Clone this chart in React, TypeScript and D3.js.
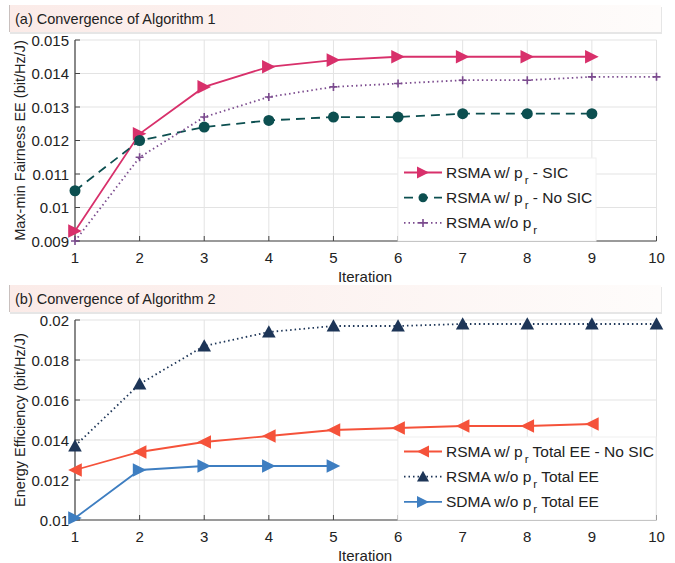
import React from 'react';
import * as d3 from 'd3';

// panel (a) data
const iterA = [1, 2, 3, 4, 5, 6, 7, 8, 9, 10];
const rsmaSic = [0.0093, 0.0122, 0.0136, 0.0142, 0.0144, 0.0145, 0.0145, 0.0145, 0.0145];
const rsmaNoSic = [0.0105, 0.012, 0.0124, 0.0126, 0.0127, 0.0127, 0.0128, 0.0128, 0.0128];
const rsmaNoPr = [0.009, 0.0115, 0.0127, 0.0133, 0.0136, 0.0137, 0.0138, 0.0138, 0.0139, 0.0139];
const yTicksA = [0.009, 0.01, 0.011, 0.012, 0.013, 0.014, 0.015];

// panel (b) data
const totalNoSic = [0.0125, 0.0134, 0.0139, 0.0142, 0.0145, 0.0146, 0.0147, 0.0147, 0.0148];
const totalNoPr = [0.0137, 0.0168, 0.0187, 0.0194, 0.0197, 0.0197, 0.0198, 0.0198, 0.0198, 0.0198];
const sdmaNoPr = [0.0101, 0.0125, 0.0127, 0.0127, 0.0127];
const yTicksB = [0.01, 0.012, 0.014, 0.016, 0.018, 0.02];

const FONT = '"Liberation Sans", Arial, Helvetica, sans-serif';

type Series = {
  values: number[];
  color: string;
  marker: 'right' | 'left' | 'up' | 'circle' | 'plus';
  dash?: string;
  label: string[]; // [before subscript, after subscript]
};

const seriesA: Series[] = [
  { values: rsmaSic, color: '#D8306B', marker: 'right', label: ['RSMA w/ p', ' - SIC'] },
  { values: rsmaNoSic, color: '#0C4F50', marker: 'circle', dash: '9,6', label: ['RSMA w/ p', ' - No SIC'] },
  { values: rsmaNoPr, color: '#7B4B8E', marker: 'plus', dash: '1.5,3', label: ['RSMA w/o p', ''] },
];

const seriesB: Series[] = [
  { values: totalNoSic, color: '#F5523A', marker: 'left', label: ['RSMA w/ p', ' Total EE - No SIC'] },
  { values: totalNoPr, color: '#1D3557', marker: 'up', dash: '1.5,3', label: ['RSMA w/o p', ' Total EE'] },
  { values: sdmaNoPr, color: '#3E7EC1', marker: 'right', label: ['SDMA w/o p', ' Total EE'] },
];

function Marker({ type, x, y, color, small }: { type: string; x: number; y: number; color: string; small?: boolean }) {
  const s = small ? 6 : 6.8;
  if (type === 'circle') return <circle cx={x} cy={y} r={small ? 4.5 : 5.5} fill={color} />;
  if (type === 'plus')
    return (
      <path d={`M${x - 4},${y}H${x + 4}M${x},${y - 4}V${y + 4}`} stroke={color} strokeWidth={1.6} />
    );
  let pts = '';
  if (type === 'right') pts = `${x + s},${y} ${x - s},${y - s} ${x - s},${y + s}`;
  if (type === 'left') pts = `${x - s},${y} ${x + s},${y - s} ${x + s},${y + s}`;
  if (type === 'up') pts = `${x},${y - s} ${x - s},${y + s * 0.8} ${x + s},${y + s * 0.8}`;
  return <polygon points={pts} fill={color} />;
}

function Banner({ y, text, id }: { y: number; text: string; id: string }) {
  return (
    <g>
      <defs>
        <linearGradient id={id} x1="0" x2="1" y1="0" y2="0">
          <stop offset="0%" stopColor="#FBEBE8" />
          <stop offset="100%" stopColor="#FEFCFB" />
        </linearGradient>
      </defs>
      <rect x={10} y={y + 2} width={652} height={27} fill="#E6E6E6" />
      <rect x={9} y={y} width={652} height={27} fill={`url(#${id})`} />
      <line x1={9.5} x2={9.5} y1={y} y2={y + 27} stroke="#C9C0BE" />
      <text x={15} y={y + 19} fontFamily={FONT} fontSize={14.5} fill="#222">
        {text}
      </text>
    </g>
  );
}

function Panel({
  top,
  bottom,
  domain,
  ticks,
  fmt,
  series,
  yLabel,
  legend,
}: {
  top: number;
  bottom: number;
  domain: [number, number];
  ticks: number[];
  fmt: (v: number) => string;
  series: Series[];
  yLabel: string;
  legend: { x: number; y: number; w: number; h: number };
}) {
  const x = d3.scaleLinear().domain([1, 10]).range([75, 656.5]);
  const y = d3.scaleLinear().domain(domain).range([bottom, top]);
  const line = d3
    .line<number>()
    .x((_, i) => x(iterA[i]))
    .y((d) => y(d));
  const xTicks = iterA;
  return (
    <g fontFamily={FONT}>
      {/* grid */}
      {xTicks.map((t) => (
        <line key={'gx' + t} x1={x(t)} x2={x(t)} y1={top} y2={bottom} stroke="#E3E3E3" />
      ))}
      {ticks.map((t) => (
        <line key={'gy' + t} x1={75} x2={656.5} y1={y(t)} y2={y(t)} stroke="#E3E3E3" />
      ))}
      {/* axes */}
      <line x1={75} x2={75} y1={top} y2={bottom} stroke="#444" strokeWidth={1.2} />
      <line x1={75} x2={656.5} y1={bottom} y2={bottom} stroke="#444" strokeWidth={1.2} />
      {xTicks.map((t) => (
        <g key={'tx' + t}>
          <line x1={x(t)} x2={x(t)} y1={bottom} y2={bottom - 5} stroke="#444" />
          <text x={x(t)} y={bottom + 22} textAnchor="middle" fontSize={15} fill="#222">
            {t}
          </text>
        </g>
      ))}
      {ticks.map((t) => (
        <g key={'ty' + t}>
          <line x1={75} x2={80} y1={y(t)} y2={y(t)} stroke="#444" />
          <text x={69} y={y(t) + 5.5} textAnchor="end" fontSize={15} fill="#222">
            {fmt(t)}
          </text>
        </g>
      ))}
      <text x={365} y={bottom + 41} textAnchor="middle" fontSize={15} fill="#222">
        Iteration
      </text>
      <text
        transform={`translate(25,${(top + bottom) / 2}) rotate(-90)`}
        textAnchor="middle"
        fontSize={14.5}
        fill="#222"
      >
        {yLabel}
      </text>
      {/* series */}
      {series.map((s, k) => (
        <g key={'s' + k}>
          <path
            d={line(s.values) || ''}
            fill="none"
            stroke={s.color}
            strokeWidth={1.8}
            strokeDasharray={s.dash}
          />
          {s.values.map((v, i) => (
            <Marker key={i} type={s.marker} x={x(iterA[i])} y={y(v)} color={s.color} />
          ))}
        </g>
      ))}
      {/* legend */}
      <rect x={legend.x} y={legend.y} width={legend.w} height={legend.h} fill="#fff" stroke="#F0F0F0" />
      {series.map((s, k) => {
        const ly = legend.y + 14.5 + k * 25.2;
        return (
          <g key={'l' + k}>
            <line
              x1={legend.x + 6}
              x2={legend.x + 44}
              y1={ly}
              y2={ly}
              stroke={s.color}
              strokeWidth={1.8}
              strokeDasharray={s.dash}
            />
            <Marker type={s.marker} x={legend.x + 25} y={ly} color={s.color} small />
            <text x={legend.x + 48} y={ly + 5.5} fontSize={15.5} fill="#222">
              {s.label[0]}
              <tspan dx={2} dy={6} fontSize={11.5}>
                r
              </tspan>
              <tspan dy={-6}>{s.label[1]}</tspan>
            </text>
          </g>
        );
      })}
    </g>
  );
}

export default function App() {
  return (
    <svg width={675} height={563} style={{ display: 'block', position: 'absolute', left: 0, top: 0 }}>
      <rect width={675} height={563} fill="#fff" />
      <Banner y={5} text="(a) Convergence of Algorithm 1" id="bannerA" />
      <Panel
        top={40}
        bottom={241}
        domain={[0.009, 0.015]}
        ticks={yTicksA}
        fmt={(v) => d3.format('')(+v.toFixed(3))}
        series={seriesA}
        yLabel="Max-min Fairness EE (bit/Hz/J)"
        legend={{ x: 398, y: 158, w: 198, h: 83 }}
      />
      <Banner y={285} text="(b) Convergence of Algorithm 2" id="bannerB" />
      <Panel
        top={320}
        bottom={520}
        domain={[0.01, 0.02]}
        ticks={yTicksB}
        fmt={(v) => d3.format('')(+v.toFixed(3))}
        series={seriesB}
        yLabel="Energy Efficiency (bit/Hz/J)"
        legend={{ x: 398, y: 437, w: 258, h: 83 }}
      />
    </svg>
  );
}
